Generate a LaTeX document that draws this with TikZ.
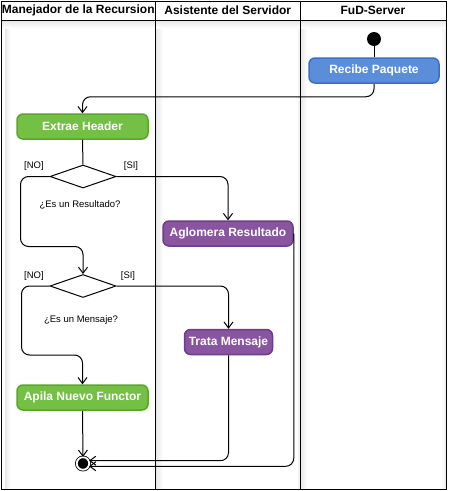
\documentclass[tikz,border=0pt]{standalone}
\usepackage{fontspec}
\setmainfont{Liberation Sans}
\usetikzlibrary{arrows.meta,shapes.geometric}

\definecolor{greenfill}{HTML}{73C045}
\definecolor{greenline}{HTML}{5AA62A}
\definecolor{bluefill}{HTML}{5A8EDB}
\definecolor{blueline}{HTML}{3A6FC8}
\definecolor{purplefill}{HTML}{8A55A0}
\definecolor{purpleline}{HTML}{6E3D87}

\tikzset{
    lane/.style={draw, line width=1pt},
    header/.style={font=\fontsize{12}{14}\selectfont\bfseries},
    act/.style={rounded corners=6pt, line width=1.5pt, text=white, minimum height=25pt,
        inner sep=0pt, font=\fontsize{12}{14}\selectfont\bfseries},
    greenact/.style={act, fill=greenfill, draw=greenline, minimum width=131pt},
    blueact/.style={act, fill=bluefill, draw=blueline, minimum width=130pt},
    purpleact/.style={act, fill=purplefill, draw=purpleline},
    decision/.style={diamond, draw, line width=1pt, fill=white, minimum width=66pt,
        minimum height=23pt, inner sep=0pt},
    guard/.style={font=\fontsize{9.5}{11}\selectfont},
    startnode/.style={circle, fill=black, minimum size=14pt, inner sep=0pt},
    endnode/.style={circle, fill=black, draw=black, line width=0.8pt, double=white,
        double distance=1.8pt, minimum size=12.5pt, inner sep=0pt},
    link/.style={line width=1pt},
    flow/.style={link, rounded corners=8pt, -{Straight Barb[length=6pt,width=9pt]}},
}

\begin{document}
\begin{tikzpicture}[x=1pt, y=-1pt]
    \useasboundingbox (0,0) rectangle (451,491);

    % lane shadows
    \shade[left color=gray!18, right color=white] (5,21) rectangle (10,489);
    \shade[left color=gray!18, right color=white] (156,21) rectangle (163,489);
    \shade[left color=gray!18, right color=white] (300.5,21) rectangle (307,489);
    \shade[left color=white, right color=gray!15] (296,21) rectangle (300,489);
    \shade[left color=white, right color=gray!15] (441,21) rectangle (446,489);
    \shade[top color=gray!18, bottom color=white] (1,21) rectangle (446,28);

    % swimlanes
    \draw[lane] (1,1) rectangle (446,489);
    \draw[lane] (1,20.5) -- (446,20.5);
    \draw[lane] (155.5,1) -- (155.5,489);
    \draw[lane] (300,1) -- (300,489);
    \node[header] (hman) at (78.25,10.5) {Manejador de la Recursion};
    \node[header] (hasis) at (227.75,10.5) {Asistente del Servidor};
    \node[header] (hfud) at (373,10.5) {FuD-Server};

    % activities
    \node[startnode] (start) at (374,39) {};
    \node[blueact] (recibe) at (374,70.5) {Recibe Paquete};
    \node[greenact] (extrae) at (82.5,126.5) {Extrae Header};
    \node[decision] (resultado) at (83,176.5) {};
    \node[purpleact, minimum width=130pt] (aglomera) at (228,233.5) {Aglomera Resultado};
    \node[decision] (mensaje) at (83,286) {};
    \node[purpleact, minimum width=88pt] (trata) at (228.5,342) {Trata Mensaje};
    \node[greenact] (apila) at (82.5,397.5) {Apila Nuevo Functor};
    \node[endnode] (fin) at (83,463.5) {};

    % guards
    \node[guard] (no1) at (34,166) {[NO]};
    \node[guard] (si1) at (131,166) {[SI]};
    \node[guard] (q1) at (80,204.5) {¿Es un Resultado?};
    \node[guard] (no2) at (34,276) {[NO]};
    \node[guard] (si2) at (128,276) {[SI]};
    \node[guard] (q2) at (81,320) {¿Es un Mensaje?};

    % flows
    \draw[link] (start) -- (recibe);
    \draw[flow] (recibe.south) -- ++(0,13) -| (extrae.north);
    \draw[link] (extrae.south) -- (resultado.north);
    \draw[flow] (resultado.east) -| (aglomera.north);
    \draw[flow] (resultado.west) -| ++(-29,70) -| (mensaje.north);
    \draw[flow] (mensaje.east) -| (trata.north);
    \draw[flow] (mensaje.west) -| ++(-28,69) -| (apila.north);
    \draw[flow] (apila.south) -- (fin.north);
    \draw[flow] (trata.south) |- (fin.25);
    \draw[flow] (aglomera.east) |- (fin.-25);
\end{tikzpicture}
\end{document}
